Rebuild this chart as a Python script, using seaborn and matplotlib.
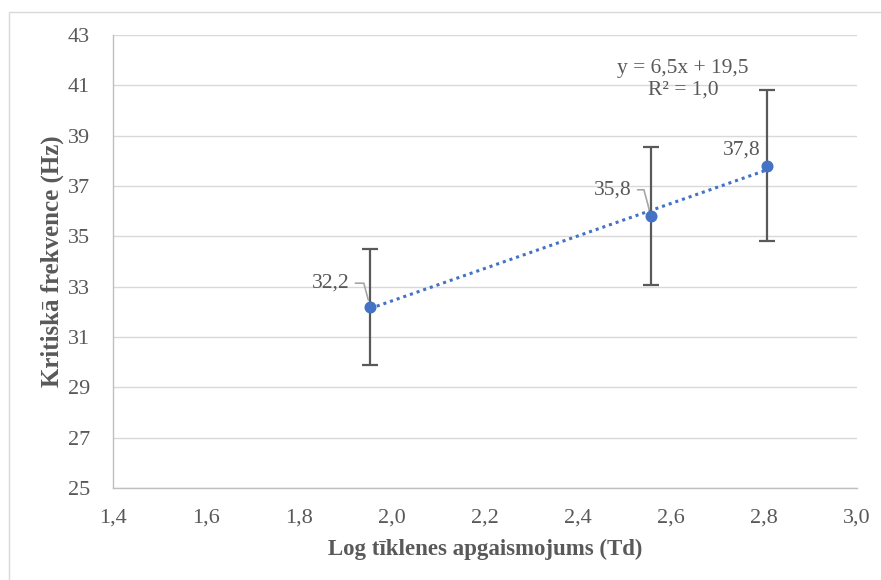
import matplotlib
matplotlib.use("Agg")
import matplotlib.pyplot as plt
import seaborn as sns
import numpy as np
import pandas as pd

# Data
x_vals = [1.953, 2.557, 2.806]
y_vals = [32.2, 35.8, 37.8]
y_err = [2.3, 2.75, 3.0]
point_labels = ["32,2", "35,8", "37,8"]
x_ticks = [1.4, 1.6, 1.8, 2.0, 2.2, 2.4, 2.6, 2.8, 3.0]
y_ticks = [25, 27, 29, 31, 33, 35, 37, 39, 41, 43]
x_title = "Log tīklenes apgaismojums (Td)"
y_title = "Kritiskā frekvence (Hz)"
eq_text = "y = 6,5x + 19,5\nR² = 1,0"

df = pd.DataFrame({"x": x_vals, "y": y_vals, "err": y_err})

sns.set_theme(style="white")
plt.rcParams['font.family'] = ['Liberation Serif', 'DejaVu Serif']

gray = "#595959"
blue = "#4472C4"

fig = plt.figure(figsize=(8.81, 5.8), dpi=100)
ax = fig.add_axes([113/881, 1-488/580, (857-113)/881, (488-35)/580])

# outer chart border
fig.patches.append(plt.Rectangle((9/881, -0.05), 1.2, 1-12/580+0.05, transform=fig.transFigure,
                                 fill=False, edgecolor="#d9d9d9", linewidth=1.0))

ax.set_xlim(1.4, 3.0)
ax.set_ylim(25, 43)
ax.set_xticks(x_ticks)
ax.set_yticks(y_ticks)
ax.set_xticklabels([f"{t:.1f}".replace(".", ",") for t in x_ticks])
ax.set_yticklabels([str(t) for t in y_ticks])
ax.grid(axis="y", color="#d9d9d9", linewidth=1.0)
ax.set_axisbelow(True)
for s in ["top", "right"]:
    ax.spines[s].set_visible(False)
for s in ["left", "bottom"]:
    ax.spines[s].set_color("#bfbfbf")
    ax.spines[s].set_linewidth(1.0)
ax.tick_params(axis="both", length=0, labelsize=16, labelcolor=gray)
ax.tick_params(axis="x", pad=15)
ax.tick_params(axis="y", pad=16.5)

# trend line
sns.regplot(data=df, x="x", y="y", scatter=False, ci=None, truncate=True, ax=ax,
            line_kws=dict(color=blue, linestyle=(0, (1, 1.3)), linewidth=2.2))

# error bars
ax.errorbar(df["x"], df["y"], yerr=df["err"], fmt="none", ecolor=gray,
            elinewidth=1.6, capsize=6, capthick=1.6, zorder=3)

# points
sns.scatterplot(data=df, x="x", y="y", ax=ax, color=blue, s=75, edgecolor=blue,
                linewidth=0, zorder=4)

ax.set_xlabel(x_title, fontsize=16.5, fontweight="bold", color=gray, labelpad=8)
ax.set_ylabel(y_title, fontsize=18, fontweight="bold", color=gray, labelpad=3)

# data labels with leader lines
offsets = [(-15, 17), (-14, 19), (-18, 11.5)]
leaders = [True, True, False]
for xv, yv, lab, off, lead in zip(x_vals, y_vals, point_labels, offsets, leaders):
    if lead:
        ax.annotate(lab, xy=(xv, yv), xytext=off, textcoords="offset points",
                    ha="right", va="center", fontsize=15.5, color=gray,
                    arrowprops=dict(arrowstyle="-", color="#a6a6a6", lw=1.2,
                                    shrinkA=2, shrinkB=5,
                                    connectionstyle="angle,angleA=0,angleB=105,rad=0"))
    else:
        ax.annotate(lab, xy=(xv, yv), xytext=off, textcoords="offset points",
                    ha="center", va="center", fontsize=15.5, color=gray)

ax.text(2.626, 40.45, eq_text, ha="center", va="bottom", fontsize=15.5, color=gray,
        linespacing=1.15)

fig.savefig("out.png", dpi=100)
